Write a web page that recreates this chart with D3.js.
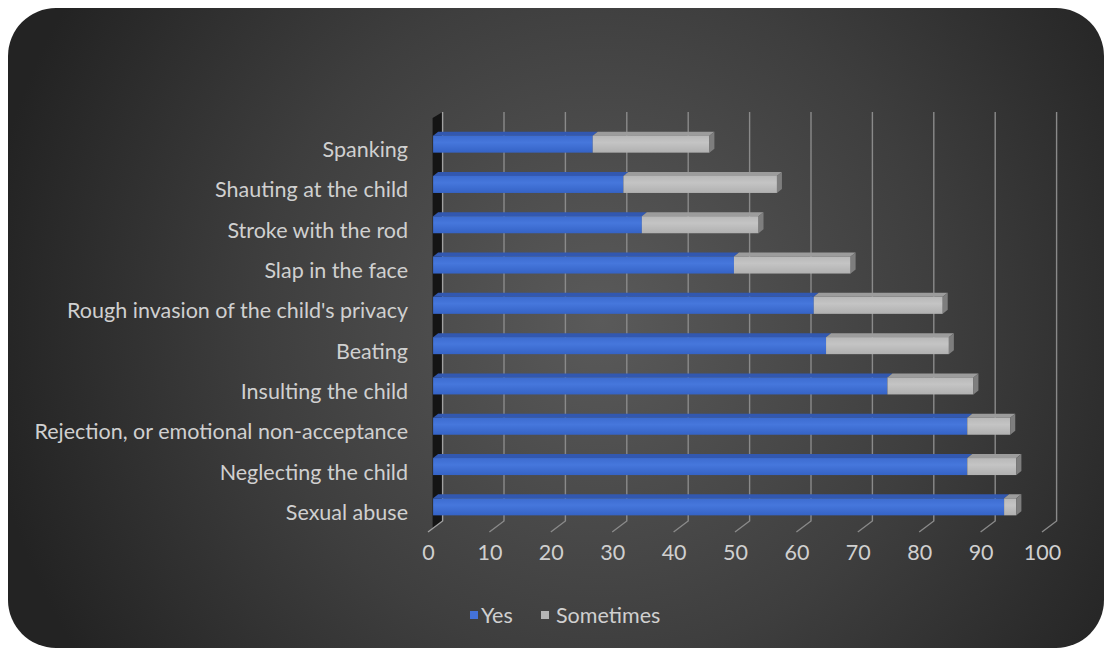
<!DOCTYPE html>
<html>
<head>
<meta charset="utf-8">
<script src="https://cdn.jsdelivr.net/npm/d3@7/dist/d3.min.js"></script>
<style>
  html, body { margin: 0; padding: 0; background: #ffffff; }
  svg { display: block; }
</style>
</head>
<body>
<svg id="chart" width="1105" height="649"></svg>
<script>
const categories = [
  "Spanking",
  "Shauting at the child",
  "Stroke with the rod",
  "Slap in the face",
  "Rough invasion of the child's privacy",
  "Beating",
  "Insulting the child",
  "Rejection, or emotional non-acceptance",
  "Neglecting the child",
  "Sexual abuse"
];
const yesValues = [26, 31, 34, 49, 62, 64, 74, 87, 87, 93];
const sometimesValues = [19, 25, 19, 19, 21, 20, 14, 7, 8, 2];
const tickValues = [0, 10, 20, 30, 40, 50, 60, 70, 80, 90, 100];
const seriesNames = ["Yes", "Sometimes"];

const svg = d3.select("#chart");
const W = 1105, H = 649;
const defs = svg.append("defs");
const FONT = "Lato, 'Noto Sans', sans-serif";
const FS = 21.5;

// background gradient
const bg = defs.append("radialGradient").attr("id", "bgGrad")
  .attr("gradientUnits", "userSpaceOnUse")
  .attr("cx", 600).attr("cy", 320).attr("r", 620);
bg.append("stop").attr("offset", "0%").attr("stop-color", "#5a5a5a");
bg.append("stop").attr("offset", "55%").attr("stop-color", "#3e3e3e");
bg.append("stop").attr("offset", "100%").attr("stop-color", "#232323");

const blueG = defs.append("linearGradient").attr("id", "blueFront").attr("x1", 0).attr("y1", 0).attr("x2", 0).attr("y2", 1);
blueG.append("stop").attr("offset", "0%").attr("stop-color", "#3d6cd0");
blueG.append("stop").attr("offset", "40%").attr("stop-color", "#4677dc");
blueG.append("stop").attr("offset", "100%").attr("stop-color", "#3563c6");
const grayG = defs.append("linearGradient").attr("id", "grayFront").attr("x1", 0).attr("y1", 0).attr("x2", 0).attr("y2", 1);
grayG.append("stop").attr("offset", "0%").attr("stop-color", "#b8b8b8");
grayG.append("stop").attr("offset", "40%").attr("stop-color", "#c4c4c4");
grayG.append("stop").attr("offset", "100%").attr("stop-color", "#b0b0b0");

svg.append("rect").attr("x", 8).attr("y", 8).attr("width", W - 9).attr("height", H - 9)
  .attr("rx", 48).attr("ry", 48).attr("fill", "url(#bgGrad)");

// scales (back wall)
const x = d3.scaleLinear().domain([0, 100]).range([442.6, 1056.6]);
const y = d3.scaleBand().domain(categories).range([124, 527]).padding(0);

const gridTop = 112, gridBottom = 521;
const depthX = -14.6, depthY = 11;   // back -> front floor
const barOffX = -9.5;                // back -> bar front face
const barH = 17, topDX = 5, topDY = -4;

// left wall
svg.append("path")
  .attr("d", `M${x(0)},${gridTop} L${x(0)},${gridBottom} L${x(0) - 10},${gridBottom + 8} L${x(0) - 10},${gridTop + 6} Z`)
  .attr("fill", "#141414");

// gridlines with floor ticks
const grid = svg.append("g");
tickValues.forEach(v => {
  const gx = x(v);
  grid.append("path")
    .attr("d", `M${gx},${gridTop} L${gx},${gridBottom} L${gx + depthX},${gridBottom + depthY}`)
    .attr("fill", "none")
    .attr("stroke", v === 0 ? "#a0a0a0" : "#8a8a8a")
    .attr("stroke-width", 1.4);
});

// x axis labels (front floor)
const axis = d3.axisBottom(d3.scaleLinear().domain([0, 100]).range([x(0) + depthX, x(100) + depthX]))
  .tickValues(tickValues).tickSize(0).tickPadding(0);
const ax = svg.append("g").attr("transform", `translate(0, 545)`).call(axis);
ax.select(".domain").remove();
ax.selectAll("text")
  .attr("fill", "#d0d0d0")
  .attr("font-family", FONT)
  .attr("font-size", FS)
  .attr("dy", "0.7em");

// bars
const bars = svg.append("g");
categories.forEach((c, i) => {
  const cy = y(c) + y.bandwidth() / 2;
  const top = cy - barH / 2, bot = cy + barH / 2;
  const segs = [
    { v0: 0, v1: yesValues[i], front: "url(#blueFront)", topC: "#3258b0" },
    { v0: yesValues[i], v1: yesValues[i] + sometimesValues[i], front: "url(#grayFront)", topC: "#9c9c9c" }
  ];
  segs.forEach(s => {
    const a = x(s.v0) + barOffX, b = x(s.v1) + barOffX;
    bars.append("path")
      .attr("d", `M${a},${top} L${b},${top} L${b + topDX},${top + topDY} L${a + topDX},${top + topDY} Z`)
      .attr("fill", s.topC);
    bars.append("rect").attr("x", a).attr("y", top).attr("width", b - a).attr("height", barH)
      .attr("fill", s.front);
  });
  const e = x(yesValues[i] + sometimesValues[i]) + barOffX;
  bars.append("path")
    .attr("d", `M${e},${top} L${e + topDX},${top + topDY} L${e + topDX},${bot + topDY} L${e},${bot} Z`)
    .attr("fill", "#7e7e7e");
});

// category labels
svg.append("g").selectAll("text").data(categories).join("text")
  .attr("x", 408)
  .attr("y", d => y(d) + y.bandwidth() / 2 + 5)
  .attr("text-anchor", "end")
  .attr("dominant-baseline", "central")
  .attr("fill", "#d0d0d0")
  .attr("font-family", FONT)
  .attr("font-size", FS)
  .text(d => d);

// legend
const legend = svg.append("g");
const legItems = [
  { name: seriesNames[0], color: "#4472d8", sx: 470, tx: 481 },
  { name: seriesNames[1], color: "#b4b4b4", sx: 541, tx: 556 }
];
legItems.forEach(l => {
  legend.append("rect").attr("x", l.sx).attr("y", 611).attr("width", 8).attr("height", 8).attr("fill", l.color);
  legend.append("text").attr("x", l.tx).attr("y", 615)
    .attr("dominant-baseline", "central")
    .attr("fill", "#d0d0d0")
    .attr("font-family", FONT)
    .attr("font-size", FS)
    .text(l.name);
});
</script>
</body>
</html>
